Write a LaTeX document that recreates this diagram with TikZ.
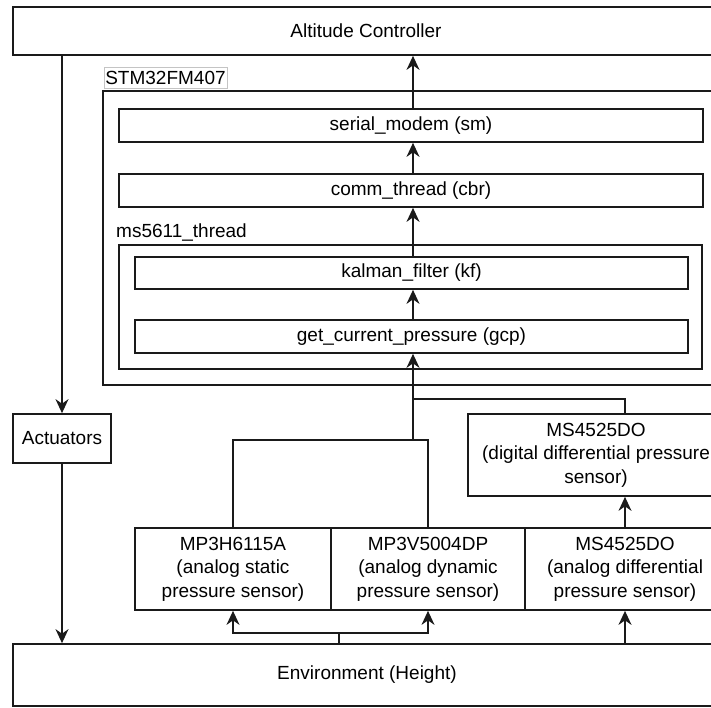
\documentclass[tikz,border=0pt]{standalone}
\usepackage{fontspec}
\setmainfont{Liberation Sans}
\usepackage{xcolor}
\usepackage{tikz}
\usetikzlibrary{positioning, arrows.meta}
\definecolor{boxInk}{HTML}{1A1A1A}
\definecolor{tagLine}{HTML}{C4C4C4}
\tikzset{
  block/.style={draw=boxInk, line width=1.7pt, fill=white, inner sep=0pt, align=center},
  sensor/.style={block, minimum height=82pt},
  thread/.style={block, minimum height=33pt},
  tag/.style={draw=tagLine, line width=0.8pt, fill=white, inner sep=1pt},
  grouplabel/.style={inner sep=0pt, anchor=base west},
  wire/.style={draw=boxInk, line width=1.7pt},
  flowarrow/.style={wire, -{Stealth[length=14pt, width=13pt, inset=4.5pt]}},
}

\begin{document}
\begin{tikzpicture}[x=1pt, y=-1pt, font=\fontsize{19}{23.4}\selectfont]
  \useasboundingbox (0,0) rectangle (711,707);
  \clip (0,0) rectangle (711,707);

  % top and bottom bars
  \node[block, minimum width=706pt, minimum height=48pt] (alt) at (366,31) {Altitude Controller};
  \node[block, minimum width=708pt, minimum height=62pt] (env) at (367,675) {Environment (Height)};

  % microcontroller frame
  \node[block, minimum width=615pt, minimum height=294pt] (stm) at (410.5,238) {};
  \node[tag, minimum width=123pt, minimum height=21pt] (stmtag) at (165.5,77.5) {STM32FM407};
  \node[thread, minimum width=584pt] (sm) at (411,125.5) {serial\_modem (sm)};
  \node[thread, minimum width=584pt] (cbr) at (411,190.5) {comm\_thread (cbr)};

  % sensor thread
  \node[block, minimum width=583pt, minimum height=124pt] (ms) at (410.5,307) {};
  \node[grouplabel] (mstag) at (116,237) {ms5611\_thread};
  \node[thread, minimum width=553pt, minimum height=32pt] (kf) at (411.5,273) {kalman\_filter (kf)};
  \node[thread, minimum width=553pt] (gcp) at (411.5,336.5) {get\_current\_pressure (gcp)};

  \node[block, minimum width=98pt, minimum height=49pt] (act) at (62,438.5) {Actuators};

  % sensors
  \node[sensor, minimum width=256pt] (dig) at (596,455) {MS4525DO\\(digital differential pressure\\sensor)};
  \node[sensor, minimum width=196pt] (mp3h) at (233,569) {MP3H6115A\\(analog static\\pressure sensor)};
  \node[sensor, minimum width=194pt] (mp3v) at (428,569) {MP3V5004DP\\(analog dynamic\\pressure sensor)};
  \node[sensor, minimum width=200pt] (ana) at (625,569) {MS4525DO\\(analog differential\\pressure sensor)};

  \coordinate (tap) at (413,399);
  \coordinate (hub) at (413,440);
  \coordinate (split) at (339,633);

  % data path upwards
  \draw[flowarrow] (sm.north -| tap) -- (alt.south -| tap);
  \draw[flowarrow] (cbr.north -| tap) -- (sm.south -| tap);
  \draw[flowarrow] (kf.north -| tap) -- (cbr.south -| tap);
  \draw[flowarrow] (gcp.north -| tap) -- (kf.south -| tap);
  \draw[flowarrow] (hub) -- (gcp.south -| hub);
  \draw[wire] (mp3h.north) |- (hub) -| (mp3v.north);
  \draw[wire] (ana.north |- dig.north) |- (tap);
  \draw[flowarrow] (ana.north) -- (dig.south -| ana);

  % environment feeds the sensors
  \draw[wire] (split |- env.north) -- (split);
  \draw[flowarrow] (split) -| (mp3h.south);
  \draw[flowarrow] (split) -| (mp3v.south);
  \draw[flowarrow] (env.north -| ana) -- (ana.south);

  % control loop
  \draw[flowarrow] (alt.south -| act) -- (act.north);
  \draw[flowarrow] (act.south) -- (env.north -| act);
\end{tikzpicture}
\end{document}
